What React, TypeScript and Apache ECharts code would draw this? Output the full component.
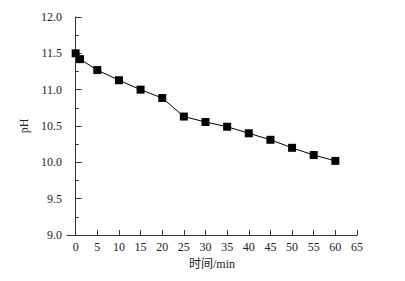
import React, { useEffect, useRef } from "react";
import * as echarts from "echarts";

const timeMin = [0, 1, 5, 10, 15, 20, 25, 30, 35, 40, 45, 50, 55, 60];
const phValues = [11.5, 11.42, 11.27, 11.13, 11.0, 10.885, 10.63, 10.555, 10.49, 10.4, 10.31, 10.2, 10.1, 10.02];
const xTicks = [0, 5, 10, 15, 20, 25, 30, 35, 40, 45, 50, 55, 60, 65];

const FONT = "Liberation Serif, Noto Sans CJK SC, serif";
const AXIS = "#333";

export default function App() {
  const ref = useRef<HTMLDivElement>(null);
  useEffect(() => {
    const chart = echarts.init(ref.current!, null, { renderer: "svg" });
    chart.setOption({
      animation: false,
      backgroundColor: "#fff",
      grid: { left: 67, top: 17, right: 48, bottom: 46 },
      xAxis: {
        type: "value",
        min: -2,
        max: 65,
        name: "时间/min",
        nameLocation: "middle",
        nameGap: 21,
        nameTextStyle: { fontFamily: FONT, fontSize: 12, color: "#222" },
        axisLine: { lineStyle: { color: AXIS, width: 1 } },
        axisTick: { inside: true, length: 5, customValues: xTicks, lineStyle: { color: AXIS } },
        axisLabel: { customValues: xTicks, fontFamily: FONT, fontSize: 12, color: "#222", margin: 6 },
        splitLine: { show: false },
      },
      yAxis: {
        type: "value",
        min: 9,
        max: 12,
        interval: 0.5,
        name: "pH",
        nameLocation: "middle",
        nameGap: 30,
        nameTextStyle: { fontFamily: FONT, fontSize: 12, color: "#222" },
        axisLine: { show: true, lineStyle: { color: AXIS, width: 1 } },
        axisTick: { inside: true, length: 6, lineStyle: { color: AXIS } },
        minorTick: { show: true, splitNumber: 2, length: 3, lineStyle: { color: AXIS } },
        axisLabel: { formatter: (v: number) => v.toFixed(1), fontFamily: FONT, fontSize: 12, color: "#222", margin: 5 },
        splitLine: { show: false },
      },
      series: [
        {
          type: "line",
          data: timeMin.map((t, i) => [t, phValues[i]]),
          symbol: "rect",
          symbolSize: 8,
          itemStyle: { color: "#000" },
          lineStyle: { color: "#000", width: 1 },
        },
      ],
    });
    return () => chart.dispose();
  }, []);
  return <div ref={ref} style={{ width: 405, height: 281, margin: -8 }} />;
}
